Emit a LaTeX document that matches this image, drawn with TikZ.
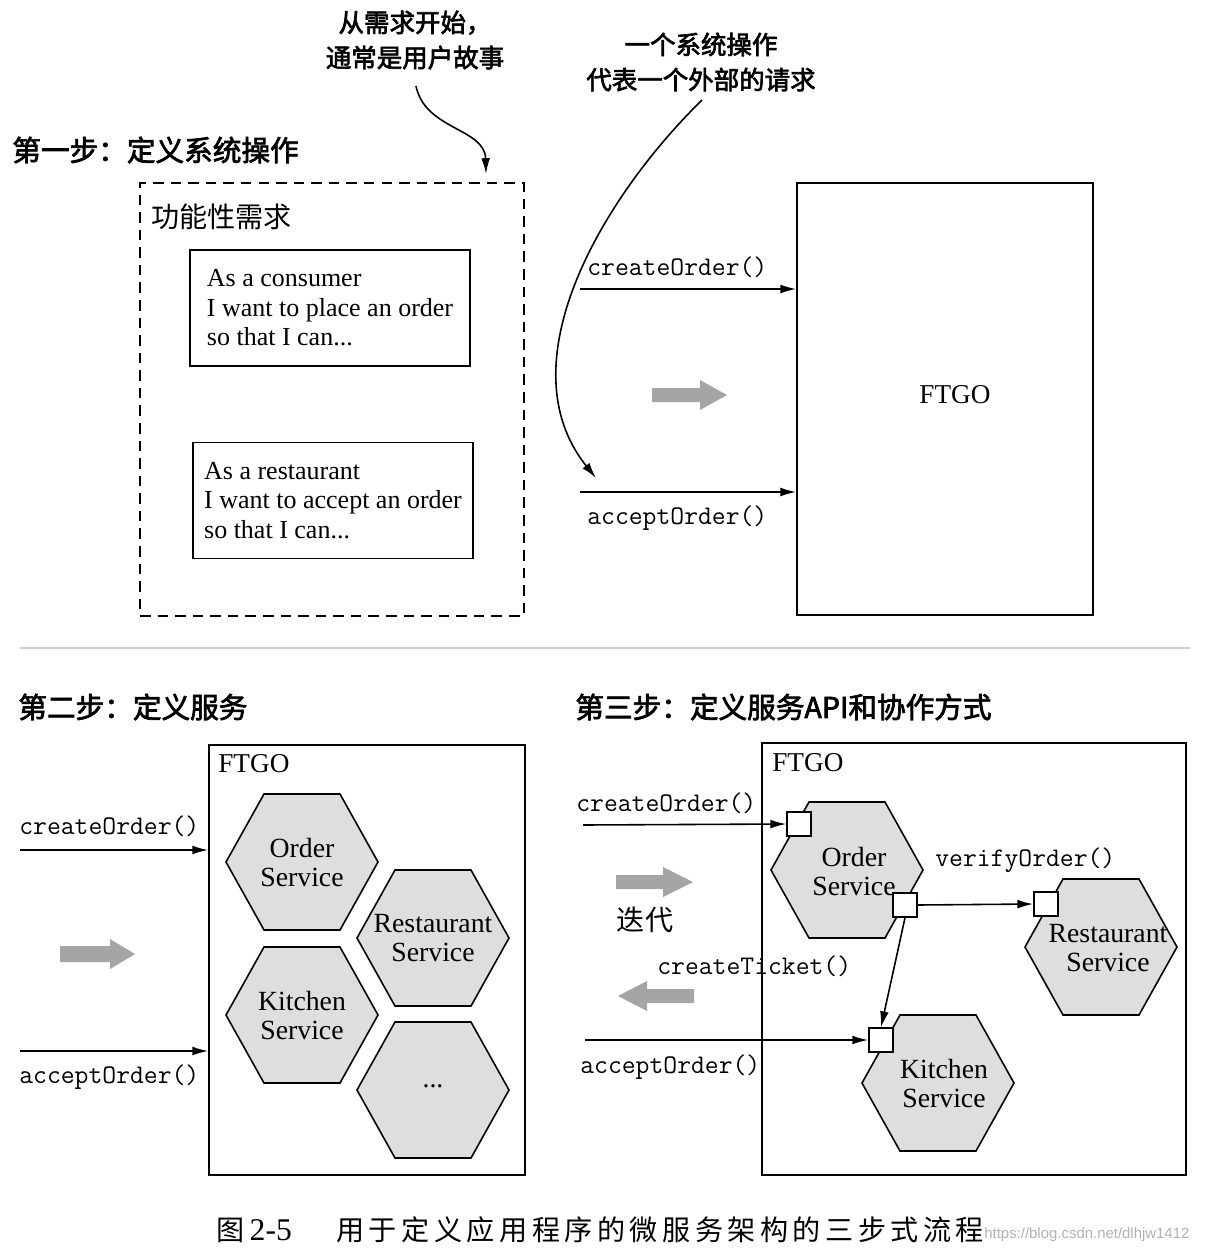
\documentclass[tikz,border=0pt]{standalone}
\usepackage{fontspec}
\setmainfont{Liberation Serif}
\newfontfamily\cjk[AutoFakeBold=2.5]{Noto Sans CJK SC}
\newfontfamily\cjkcap[LetterSpace=16]{Noto Sans CJK SC}
\newfontfamily\wmfont{Liberation Sans}
\usetikzlibrary{arrows.meta}
\definecolor{hexfill}{RGB}{222,222,222}
\definecolor{garrow}{RGB}{165,165,165}
\definecolor{sepline}{RGB}{205,205,205}
\newcommand\hexat[1]{\draw[hexs] (#1) ++(-76,0) -- ++(38,-68) -- ++(76,0) -- ++(38,68) -- ++(-38,68) -- ++(-76,0) -- cycle;}
\tikzset{
  box/.style={draw, line width=0.9pt, inner sep=0pt},
  arr/.style={-{Latex[length=9pt,width=5pt]}, line width=0.9pt},
  mono/.style={font=\ttfamily\fontsize{15.3}{17}\selectfont, inner sep=0pt, anchor=west},
  headb/.style={font=\cjk\bfseries\fontsize{16.3}{18}\selectfont, inner sep=0pt, anchor=west},
  note/.style={font=\cjk\bfseries\fontsize{14.5}{20}\selectfont, align=center, inner sep=0pt},
  svc/.style={font=\fontsize{15.8}{16.5}\selectfont, align=center, inner sep=0pt},
  story/.style={draw, line width=0.9pt, minimum width=5.6cm, minimum height=2.32cm, align=left, font=\fontsize{14.8}{16.8}\selectfont, inner sep=0pt},
  port/.style={draw, fill=white, minimum size=0.48cm, inner sep=0pt, line width=0.9pt},
  hexs/.style={draw, fill=hexfill, line width=0.9pt},
  ftgo/.style={font=\fontsize{15.5}{18}\selectfont, inner sep=0pt},
  garr/.style={fill=garrow, draw=none}
}
\begin{document}
\begin{tikzpicture}[x=0.02cm, y=-0.02cm]
\fill[white] (0,0) rectangle (1206,1252);
\useasboundingbox (0,0) rectangle (1206,1252);

% ---------- Step 1 ----------
\node[note] (n1) at (415,40) {从需求开始，\\通常是用户故事};
\node[note] (n2) at (701,62) {一个系统操作\\代表一个外部的请求};
\node[headb] (h1) at (12,150) {第一步：定义系统操作};

\node[draw, dashed, dash pattern=on 6pt off 4pt, line width=1pt, minimum width=7.68cm, minimum height=8.66cm, inner sep=0pt] (req) at (332,399.5) {};
\node[font=\cjk\fontsize{16}{18}\selectfont, inner sep=0pt, anchor=west] (reqt) at (151,217) {功能性需求};

\node[story] (s1) at (330,308) {As a consumer\\I want to place an order\\so that I can...};
\node[story] (s2) at (333,500.5) {As a restaurant\\I want to accept an order\\so that I can...};

\node[box, minimum width=5.92cm, minimum height=8.64cm] (sys) at (945,399) {};
\node[ftgo] (sysT) at (955,395) {FTGO};

\coordinate (c1) at (580,289);
\coordinate (c2) at (580,492);
\draw[arr] (c1) -- (c1 -| sys.west);
\draw[arr] (c2) -- (c2 -| sys.west);
\node[mono] (l1) at (587,267) {createOrder()};
\node[mono] (l2) at (587,518) {acceptOrder()};

\coordinate (t1) at (486,174);
\coordinate (t2) at (596,478);
\draw[arr] (416,86) .. controls (425,130) and (485,128) .. (t1);
\draw[arr] (702,100) .. controls (600,200) and (505,365) .. (t2);

\fill[garr] (652,388) -- (700,388) -- (700,380) -- (727,395) -- (700,410) -- (700,402) -- (652,402) -- cycle;

% separator
\draw[sepline, line width=0.8pt] (20,648) -- (1190,648);

% ---------- Step 2 ----------
\node[headb] (h2) at (18,707) {第二步：定义服务};
\node[box, minimum width=6.32cm, minimum height=8.6cm] (f2) at (367,960) {};
\node[ftgo, anchor=west] (f2t) at (218,764) {FTGO};

\coordinate (o2) at (302,862);
\coordinate (r2) at (433,938);
\coordinate (k2) at (302,1015);
\coordinate (d2) at (433,1090);
\hexat{o2}\hexat{r2}\hexat{k2}\hexat{d2}
\node[svc] (o2t) at (o2) {Order\\Service};
\node[svc] (r2t) at (r2) {Restaurant\\Service};
\node[svc] (k2t) at (k2) {Kitchen\\Service};
\node[svc] (d2t) at (433,1086) {...};

\coordinate (c3) at (20,850);
\coordinate (c4) at (20,1051);
\draw[arr] (c3) -- (c3 -| f2.west);
\draw[arr] (c4) -- (c4 -| f2.west);
\node[mono] (l3) at (19,826) {createOrder()};
\node[mono] (l4) at (19,1077) {acceptOrder()};

\fill[garr] (60,946) -- (110,946) -- (110,939) -- (135,954) -- (110,969) -- (110,962) -- (60,962) -- cycle;

% ---------- Step 3 ----------
\node[headb] (h3) at (575,707) {第三步：定义服务API和协作方式};
\node[box, minimum width=8.48cm, minimum height=8.64cm] (f3) at (974,959) {};
\node[ftgo, anchor=west] (f3t) at (772,763) {FTGO};

\coordinate (o3) at (847,870);
\coordinate (r3) at (1101,947);
\coordinate (k3) at (938,1083);
\hexat{o3}\hexat{r3}\hexat{k3}
\node[svc] (o3t) at (854,871) {Order\\Service};
\node[svc] (r3t) at (1108,948) {Restaurant\\Service};
\node[svc] (k3t) at (944,1083) {Kitchen\\Service};

\node[port] (p1) at (799,824) {};
\node[port] (p2) at (905,905) {};
\node[port] (p4) at (1046,904) {};
\node[port] (p3) at (881,1040) {};

\coordinate (c5) at (583,825);
\coordinate (c6) at (585,1040);
\draw[arr] (c5) -- (p1.west);
\draw[arr] (c6) -- (p3.west);
\draw[arr] (p2.east) -- (p4.west);
\draw[arr] (p2.south) -- (p3.north);

\node[mono] (l5) at (576,803) {createOrder()};
\node[mono] (l6) at (935,860) {verifyOrder()};
\node[mono] (l7) at (657,966) {createTicket()};
\node[mono] (l8) at (580,1067) {acceptOrder()};

\fill[garr] (616,875) -- (663,875) -- (663,867) -- (693,882) -- (663,897) -- (663,889) -- (616,889) -- cycle;
\node[font=\cjk\fontsize{16}{18}\selectfont, inner sep=0pt] (it) at (645,920) {迭代};
\fill[garr] (694,989) -- (647,989) -- (647,981) -- (618,996) -- (647,1011) -- (647,1003) -- (694,1003) -- cycle;

% ---------- caption ----------
\node[font=\wmfont\fontsize{8.5}{10}\selectfont, text=black!30, anchor=west, inner sep=0pt] (wm) at (984,1235) {https://blog.csdn.net/dlhjw1412};
\node[anchor=west, inner sep=0pt] (cap1) at (216,1230) {{\cjk\fontsize{16}{18}\selectfont 图}\hspace{3pt}{\fontsize{18}{20}\selectfont 2-5}};
\node[anchor=west, inner sep=0pt, font=\cjkcap\fontsize{16}{18}\selectfont] (cap2) at (336,1230) {用于定义应用程序的微服务架构的三步式流程};
\end{tikzpicture}
\end{document}
